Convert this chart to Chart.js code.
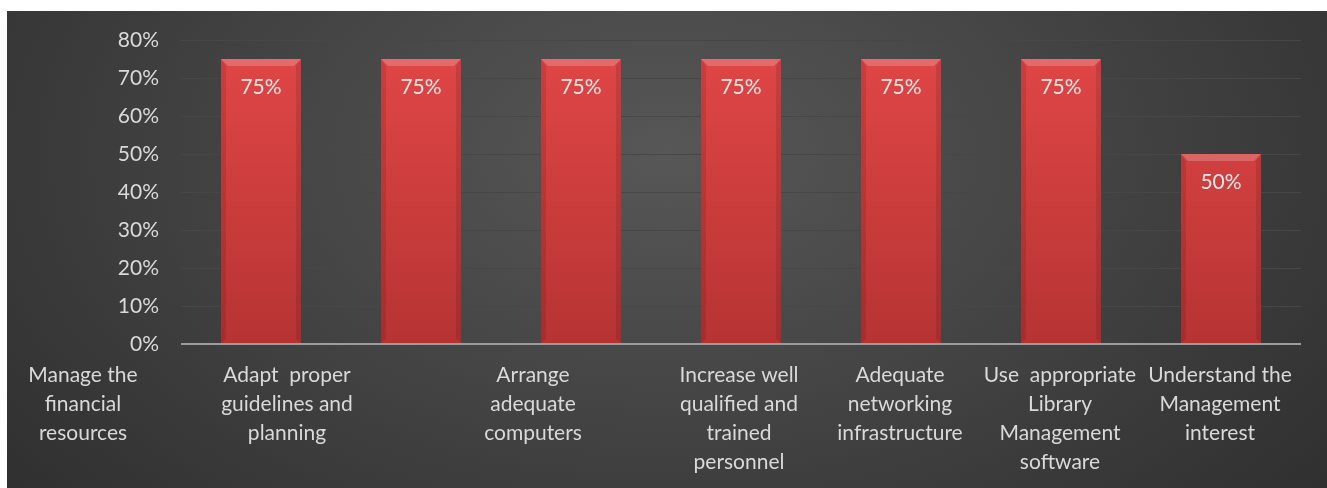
<!DOCTYPE html>
<html>
<head>
<meta charset="utf-8">
<script src="https://cdn.jsdelivr.net/npm/chart.js@4"></script>
<style>
  body { margin: 0; background: #ffffff; }
  #wrap { position: absolute; left: 7px; top: 11px; width: 1320px; height: 477px; }
</style>
</head>
<body>
<div id="wrap"><canvas id="chart"></canvas></div>
<script>
// categories as they are wrapped on the picture
const categories = [
    ["Manage the", "financial", "resources"],
    ["Adapt  proper", "guidelines and", "planning"],
    ["Arrange", "adequate", "computers"],
    ["Increase well", "qualified and", "trained", "personnel"],
    ["Adequate", "networking", "infrastructure"],
    ["Use  appropriate", "Library", "Management", "software"],
    ["Understand the", "Management", "interest"]
];
const values = [75, 75, 75, 75, 75, 75, 50]; // percent
const yTicks = [0, 10, 20, 30, 40, 50, 60, 70, 80];

const labelShift = [-178, -134, -48, -2, -1, -1, -1]; // excel pushed the first labels to the left
const font = "Lato, 'Liberation Sans', sans-serif";

// dark radial background
const backgroundPlugin = {
    id: "bg",
    beforeDraw(chart) {
        const ctx = chart.ctx;
        const w = chart.width, h = chart.height;
        ctx.save();
        ctx.translate(w * 0.5, h * 0.3);
        ctx.scale(1.6, 1);
        const g = ctx.createRadialGradient(0, 0, 0, 0, 0, w * 0.5);
        g.addColorStop(0, "#575757");
        g.addColorStop(0.55, "#3c3c3c");
        g.addColorStop(1, "#262626");
        ctx.fillStyle = g;
        ctx.fillRect(-w, -h, w * 2, h * 2);
        ctx.restore();
    }
};

// bevel look on the bars + value labels
const barPlugin = {
    id: "bevel",
    afterDatasetsDraw(chart) {
        const ctx = chart.ctx;
        const meta = chart.getDatasetMeta(0);
        meta.data.forEach((bar, i) => {
            const left = bar.x - bar.width / 2;
            const right = bar.x + bar.width / 2;
            const top = bar.y;
            const bottom = bar.base;
            ctx.save();
            // top edge lighter
            ctx.fillStyle = "rgba(255,255,255,0.2)";
            ctx.beginPath();
            ctx.moveTo(left, top);
            ctx.lineTo(right, top);
            ctx.lineTo(right - 7, top + 7);
            ctx.lineTo(left + 7, top + 7);
            ctx.closePath();
            ctx.fill();
            // sides darker
            ctx.fillStyle = "rgba(0,0,0,0.1)";
            ctx.beginPath();
            ctx.moveTo(left, top);
            ctx.lineTo(left + 5, top + 7);
            ctx.lineTo(left + 5, bottom - 4);
            ctx.lineTo(left, bottom);
            ctx.closePath();
            ctx.fill();
            ctx.beginPath();
            ctx.moveTo(right, top);
            ctx.lineTo(right - 5, top + 7);
            ctx.lineTo(right - 5, bottom - 4);
            ctx.lineTo(right, bottom);
            ctx.closePath();
            ctx.fill();

            ctx.fillStyle = "#e8e8e8";
            ctx.font = "21px " + font;
            ctx.textAlign = "center";
            ctx.textBaseline = "middle";
            ctx.fillText(values[i] + "%", bar.x, top + 28);
            ctx.restore();
        });
    }
};

// category labels under the plot
const xLabelPlugin = {
    id: "xlabels",
    afterDraw(chart) {
        const ctx = chart.ctx;
        const xScale = chart.scales.x;
        const bottom = chart.chartArea.bottom;
        ctx.save();
        ctx.fillStyle = "#d9d9d9";
        ctx.font = "21px " + font;
        ctx.textAlign = "center";
        ctx.textBaseline = "middle";
        categories.forEach((lines, i) => {
            const cx = xScale.getPixelForValue(i) + labelShift[i];
            lines.forEach((line, k) => {
                ctx.fillText(line, cx, bottom + 31 + k * 29);
            });
        });
        ctx.restore();
    }
};

const canvas = document.getElementById("chart");

function barFill(context) {
    const area = context.chart.chartArea;
    if (!area) return "#d04040";
    const g = context.chart.ctx.createLinearGradient(0, area.top, 0, area.bottom);
    g.addColorStop(0, "#e24747");
    g.addColorStop(1, "#b73333");
    return g;
}

let barChart = new Chart(canvas, {
    type: "bar",
    data: {
        labels: categories.map(c => c.join(" ")),
        datasets: [{
            data: values,
            backgroundColor: barFill,
            borderWidth: 0,
            barPercentage: 0.5,
            categoryPercentage: 1.0
        }]
    },
    options: {
        responsive: true,
        maintainAspectRatio: false,
        animation: false,
        layout: {
            padding: { top: 29, bottom: 144, right: 26, left: 0 }
        },
        plugins: {
            legend: { display: false },
            tooltip: { enabled: false }
        },
        scales: {
            x: {
                display: false
            },
            y: {
                min: 0,
                max: 80,
                afterBuildTicks(scale) {
                    scale.ticks = yTicks.map(v => ({ value: v }));
                },
                afterFit(scale) {
                    scale.width = 174;
                    scale.paddingTop = 0; // keep the plot top where the picture has it
                    scale.paddingBottom = 0;
                },
                border: { display: false },
                grid: {
                    drawTicks: false,
                    color: ctx => ctx.tick.value === 0 ? "#9c9c9c" : "#474747",
                    lineWidth: ctx => ctx.tick.value === 0 ? 2 : 1
                },
                ticks: {
                    color: "#d9d9d9",
                    padding: 22,
                    font: { size: 21, family: font },
                    callback: v => v + "%"
                }
            }
        }
    },
    plugins: [backgroundPlugin, barPlugin, xLabelPlugin]
});
</script>
</body>
</html>
